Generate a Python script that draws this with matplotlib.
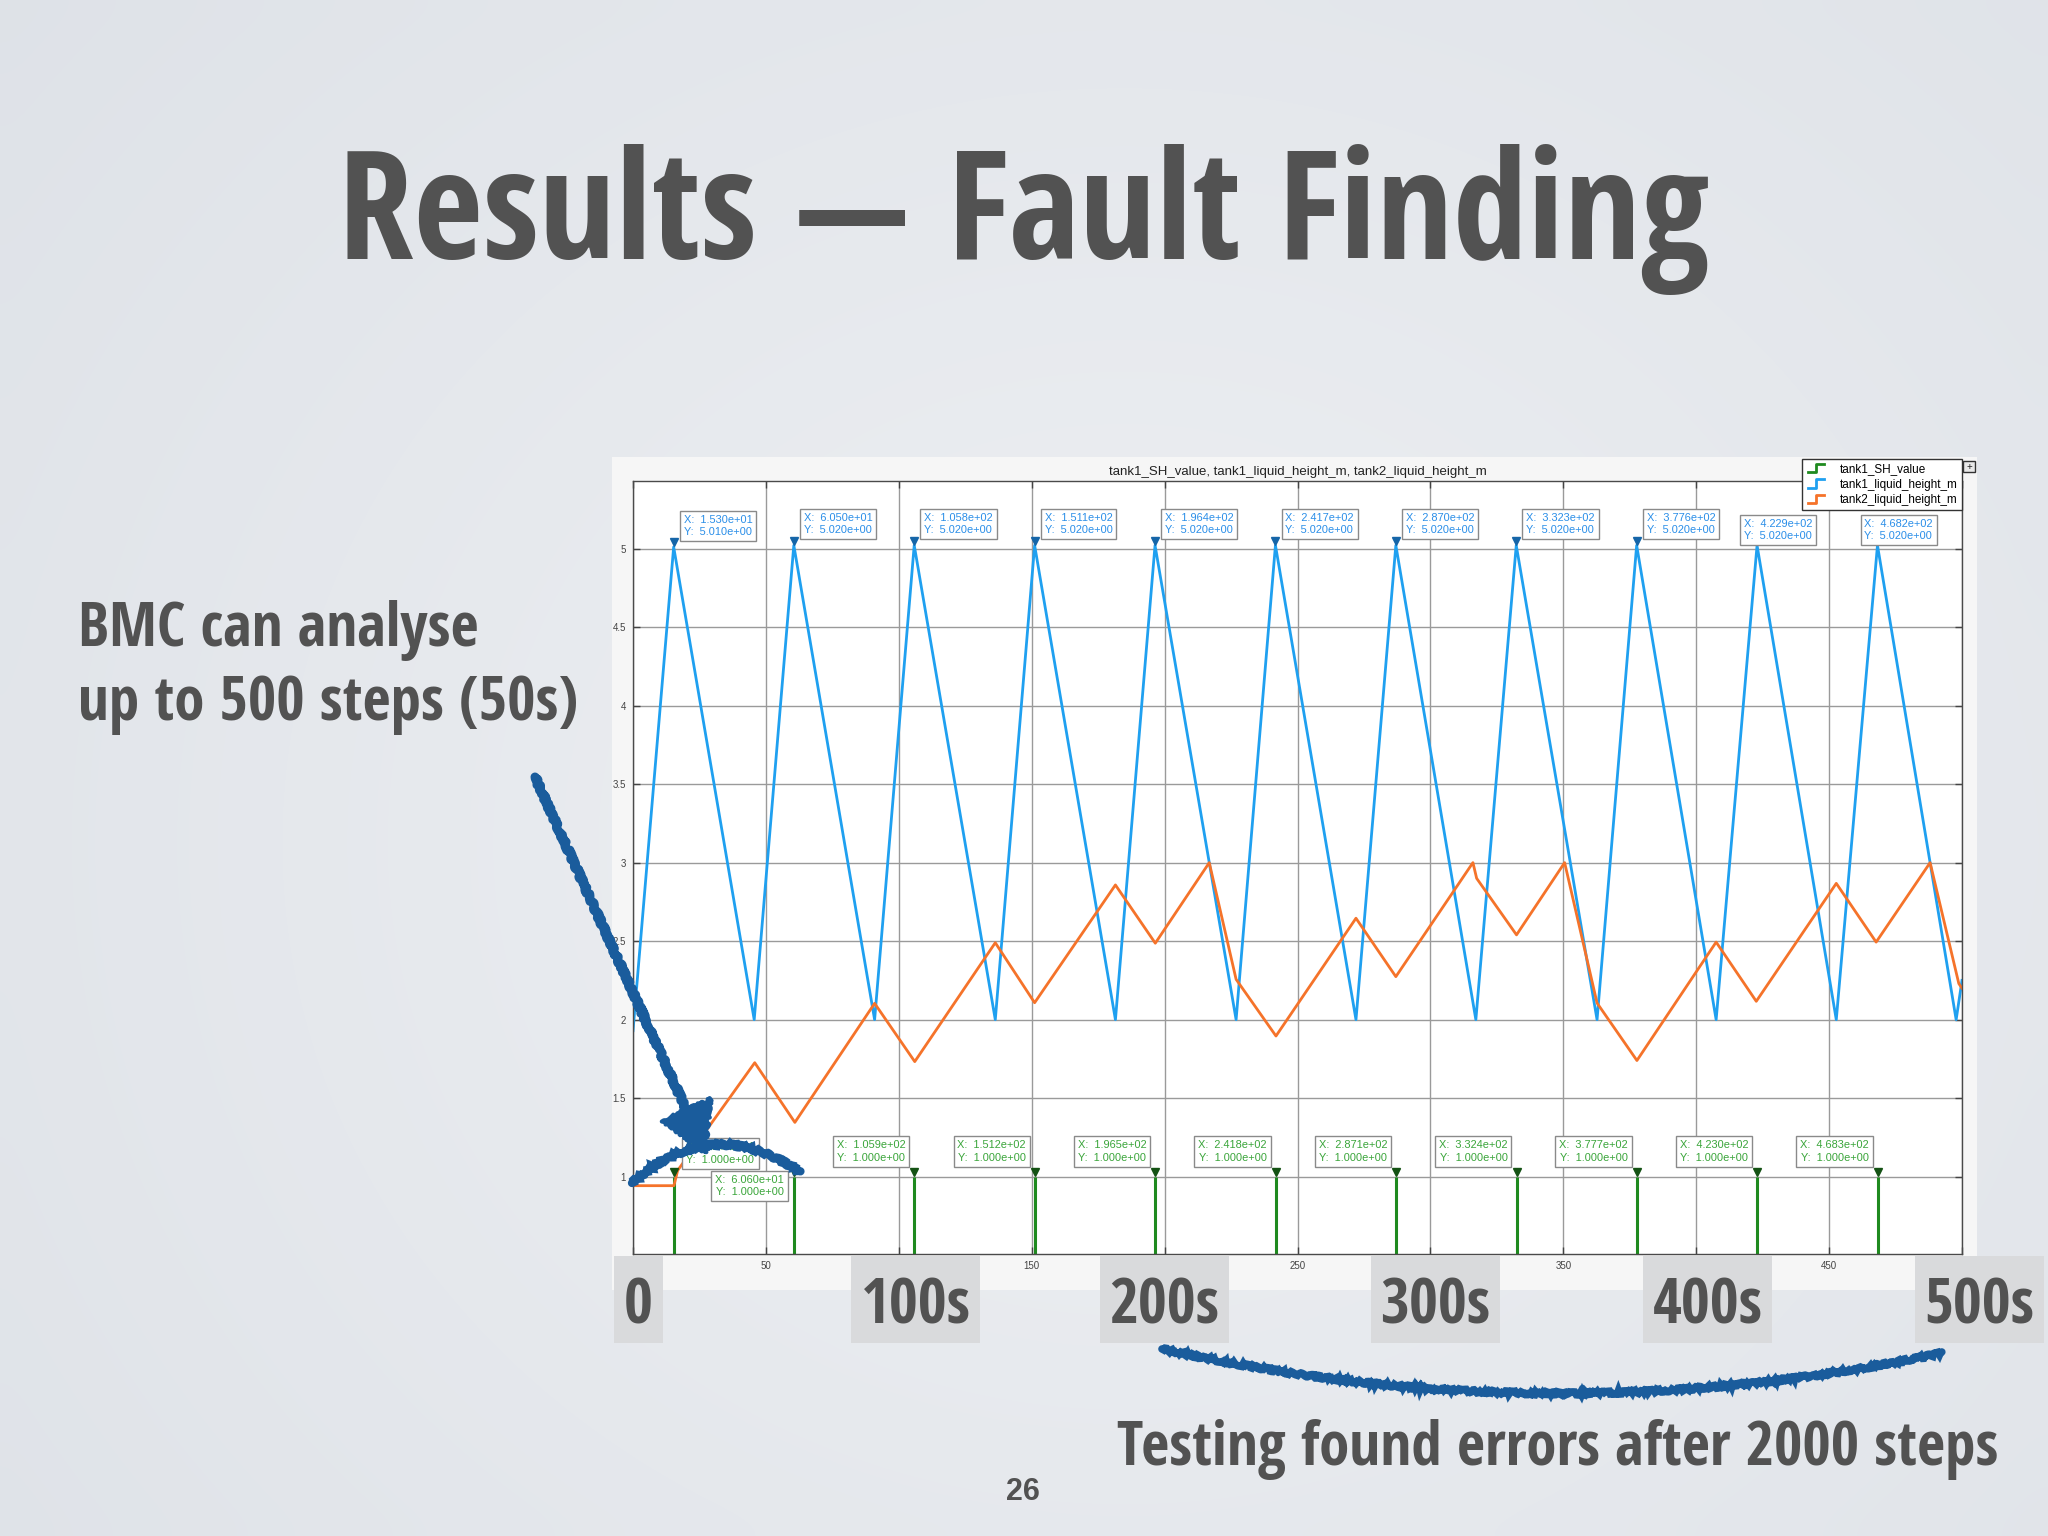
import numpy as np
import matplotlib
matplotlib.use("Agg")
import matplotlib.pyplot as plt
from matplotlib.lines import Line2D
from matplotlib.legend_handler import HandlerBase
from matplotlib.patches import Rectangle, Polygon, PathPatch
from matplotlib.path import Path
from matplotlib import font_manager as fm

# ── data ────────────────────────────────────────────────────────
T1_X = [0, 15.3, 45.6, 60.5, 90.9, 105.8, 136.3, 151.1, 181.5, 196.4, 226.9, 241.7,
        272.0, 287.0, 317.1, 332.3, 362.7, 377.6, 407.5, 422.9, 452.7, 468.2, 497.8, 500]
T1_Y = [1.93, 5.01, 2.0, 5.02, 2.0, 5.02, 2.0, 5.02, 2.0, 5.02, 2.0, 5.02,
        2.0, 5.02, 2.0, 5.02, 2.0, 5.02, 2.0, 5.02, 2.0, 5.02, 2.0, 2.25]

T2_X = [0, 15.4, 16.8, 45.8, 60.9, 90.9, 106.0, 136.3, 151.1, 181.5, 196.5, 216.8,
        226.9, 241.9, 272.0, 287.0, 316.0, 317.4, 332.4, 350.5, 362.7, 377.7, 407.5,
        422.6, 452.7, 467.7, 488.0, 498.8, 500]
T2_Y = [0.943, 0.943, 1.04, 1.726, 1.346, 2.104, 1.733, 2.49, 2.108, 2.858, 2.487, 3.0,
        2.257, 1.896, 2.646, 2.274, 3.0, 2.90, 2.54, 3.0, 2.106, 1.74, 2.494,
        2.117, 2.868, 2.494, 3.0, 2.23, 2.2]

SH_X = [15.4, 60.6, 105.9, 151.2, 196.5, 241.8, 287.1, 332.4, 377.7, 423.0, 468.3]
SH_Y = [1.0, 1.0, 1.0, 1.0, 1.0, 1.0, 1.0, 1.0, 1.0, 1.0, 1.0]

SERIES = ["tank1_SH_value", "tank1_liquid_height_m", "tank2_liquid_height_m"]
XTICKS = [0, 50, 100, 150, 200, 250, 300, 350, 400, 450, 500]
XTICK_LABELS = ["", "50", "", "150", "", "250", "", "350", "", "450", ""]
YTICKS = [1, 1.5, 2, 2.5, 3, 3.5, 4, 4.5, 5]
YTICK_LABELS = ["1", "1.5", "2", "2.5", "3", "3.5", "4", "4.5", "5"]
BIG_LABELS = ["0", "100s", "200s", "300s", "400s", "500s"]

C_SH, C_T1, C_T2 = "#1f8a1f", "#1fa0f0", "#f5732a"
INK = "#525252"
PEN = "#1a5c9c"

# condensed bold face for the slide text (keynote used Helvetica Neue Condensed)
SLIDE_FILE = None
for want in ["Open Sans Condensed", "Liberation Sans Narrow", "PT Sans Narrow"]:
    for f in fm.fontManager.ttflist:
        if f.name == want and f.weight in (700, "bold") and f.style == "normal":
            SLIDE_FILE = f.fname
            break
    if SLIDE_FILE is not None:
        break


def slide_font(size):
    if SLIDE_FILE is not None:
        return fm.FontProperties(fname=SLIDE_FILE, size=size)
    return fm.FontProperties(family="Liberation Sans", weight="bold", size=size * 0.85)


plt.rcParams["font.family"] = ["Liberation Sans", "DejaVu Sans"]


class StairsHandler(HandlerBase):
    """MATLAB-like stairs icon in the legend."""
    def create_artists(self, legend, orig, xd, yd, w, h, fs, trans):
        x0, x1 = -xd + w * 0.1, -xd + w * 0.9
        y0, y1 = -yd, -yd + h
        xm = (x0 + x1) / 2
        ln = Line2D([x0, xm, xm, x1], [y0, y0, y1, y1],
                    color=orig.get_color(), lw=2)
        ln.set_transform(trans)
        return [ln]


fig = plt.figure(figsize=(20.48, 15.36), dpi=100)

# ── slide background ──
bg = fig.add_axes([0, 0, 1, 1], zorder=0)
yy, xx = np.mgrid[0:1:60j, 0:1:80j]
r = np.clip(np.hypot((xx - 0.55) * 1.2, (yy - 0.55)), 0, 1)
c_in = np.array([238, 240, 243]) / 255
c_out = np.array([220, 224, 230]) / 255
img = c_in[None, None, :] * (1 - r[..., None]) + c_out[None, None, :] * r[..., None]
bg.imshow(img, extent=[0, 2048, 1536, 0], aspect="auto", interpolation="bicubic")
bg.add_patch(Rectangle((612, 457), 1365, 833, color="#f6f6f6", lw=0))
bg.set_xlim(0, 2048); bg.set_ylim(1536, 0)
bg.axis("off")

# ── the MATLAB chart ──
ax = fig.add_axes([633 / 2048, 1 - 1254 / 1536, 1329 / 2048, 773 / 1536], zorder=1)
ax.set_facecolor("white")
ax.vlines(SH_X, 0, SH_Y, color=C_SH, lw=2.2)
ax.plot(T1_X, T1_Y, color=C_T1, lw=2.0)
ax.plot(T2_X, T2_Y, color=C_T2, lw=2.0)
ax.set_xlim(0, 500)
ax.set_ylim(0.508, 5.43)
ax.set_xticks(XTICKS, XTICK_LABELS)
ax.set_yticks(YTICKS, YTICK_LABELS)
ax.tick_params(direction="in", length=5, width=1, colors="#444444", labelsize=7,
               top=True, right=True, pad=5)
ax.grid(True, color="#9a9a9a", lw=1.0)
for s in ax.spines.values():
    s.set_color("#4a4a4a"); s.set_linewidth(1.0)
ax.set_title(", ".join(SERIES), fontsize=9.5, color="#222222", pad=4)

handles = [Line2D([], [], color=c) for c in (C_SH, C_T1, C_T2)]
leg = ax.legend(handles, SERIES, loc="upper right",
                bbox_to_anchor=(1962 / 2048, 1 - 459 / 1536), bbox_transform=fig.transFigure,
                fontsize=8.5, frameon=True, fancybox=False, edgecolor="#333333",
                framealpha=1, borderpad=0.35, handlelength=1.7, labelspacing=0.3,
                handletextpad=1.2, borderaxespad=0, handler_map={Line2D: StairsHandler()})
leg.get_frame().set_linewidth(1.0)

# data tips
box = dict(boxstyle="square,pad=0.35", fc="white", ec="#8a8a8a", lw=1)
peaks = [(x, y) for x, y in zip(T1_X, T1_Y) if y > 4]
for x, y in peaks:
    ax.plot(x, y + 0.03, marker="v", color="#1565a8", ms=6)
    off = (10, 10) if x < 400 else (-13, 4)
    ax.annotate(f"X:  {x:.3e}\nY:  {y:.3e}", (x, y), xytext=off, textcoords="offset pixels",
                ha="left", va="bottom", fontsize=7.9, color="#2a8ee8", bbox=box,
                linespacing=1.3, zorder=5)
for i, (x, y) in enumerate(zip(SH_X, SH_Y)):
    ax.plot(x, y + 0.03, marker="v", color="#145214", ms=6)
    if i == 0:
        off, ha, va = (12, 12), "left", "bottom"
    elif i == 1:
        off, ha, va = (-10, 2), "right", "top"
    else:
        off, ha, va = (-9, 14), "right", "bottom"
    ax.annotate(f"X:  {x:.3e}\nY:  {y:.3e}", (x, y), xytext=off, textcoords="offset pixels",
                ha=ha, va=va, fontsize=7.9, color="#3aa53a", bbox=box,
                linespacing=1.3, zorder=5)

# ── slide overlay: text, grey labels, pen marks ──
ov = fig.add_axes([0, 0, 1, 1], zorder=3)
ov.set_xlim(0, 2048); ov.set_ylim(1536, 0)
ov.axis("off"); ov.patch.set_alpha(0)

ov.add_patch(Rectangle((1963, 461), 12, 11, fc="#e8e8e8", ec="#333333", lw=1))
ov.text(1969, 467, "+", ha="center", va="center", fontsize=7, color="#222222")

ov.text(1024, 259, "Results — Fault Finding", ha="center", va="baseline",
        color=INK, fontproperties=slide_font(108.5))
ov.text(78, 646, "BMC can analyse", color=INK, va="baseline", fontproperties=slide_font(44))
ov.text(78, 720, "up to 500 steps (50s)", color=INK, va="baseline",
        fontproperties=slide_font(44))
ov.text(1117, 1465, "Testing found errors after 2000 steps", color=INK,
        va="baseline", fontproperties=slide_font(44))
ov.text(1023, 1500, "26", fontsize=22, color=INK, ha="center", va="baseline",
        family="Liberation Sans", weight="bold")

box_left = [614, 851, 1100, 1371, 1643, 1915]
box_w = [49, 129, 129, 129, 129, 129]
for lab, bx, bw in zip(BIG_LABELS, box_left, box_w):
    ov.add_patch(Rectangle((bx, 1256), bw, 87, fc="#d9dadc", lw=0))
    ov.text(bx + bw / 2, 1324, lab, ha="center", va="baseline",
            color=INK, fontproperties=slide_font(45))


def pen_curve(p0, c, p2, lw):
    path = Path([p0, c, p2], [Path.MOVETO, Path.CURVE3, Path.CURVE3])
    patch = PathPatch(path, fc="none", ec=PEN, lw=lw, capstyle="round")
    patch.set_sketch_params(scale=1.5, length=6, randomness=8)
    ov.add_patch(patch)


# arrow towards the start of the trace
tip = np.array([705, 1152])
d = np.array([165, 373]) / np.hypot(165, 373)
perp = np.array([-d[1], d[0]])
base = tip - 46 * d
shaft = Line2D([535, base[0]], [777, base[1]], color=PEN, lw=6.5, solid_capstyle="round")
shaft.set_sketch_params(scale=1.5, length=6, randomness=8)
ov.add_line(shaft)
head = Polygon([tip, base + 26 * perp, base - 26 * perp], closed=True, fc=PEN, ec=PEN,
               lw=3, joinstyle="round")
head.set_sketch_params(scale=1.5, length=6, randomness=8)
ov.add_patch(head)
pen_curve((632, 1183), (712, 1112), (800, 1172), 6)

# brace under the later part of the trace
pen_curve((1162, 1349), (1552, 1436), (1942, 1353), 5.5)

fig.savefig("out.png", dpi=100)
